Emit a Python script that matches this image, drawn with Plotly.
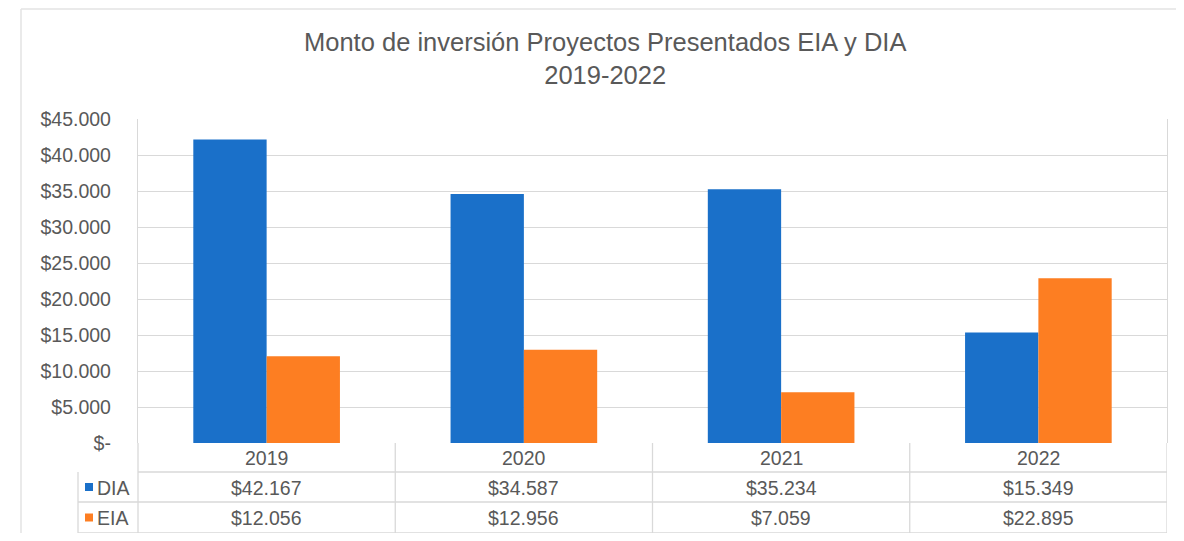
import plotly.graph_objects as go

years = ["2019", "2020", "2021", "2022"]
dia = [42167, 34587, 35234, 15349]
eia = [12056, 12956, 7059, 22895]
series_names = ["DIA", "EIA"]
y_ticks = [0, 5000, 10000, 15000, 20000, 25000, 30000, 35000, 40000, 45000]

BLUE = "#1a70c9"
ORANGE = "#fd7e22"
TEXT = "#595959"
GRID = "#d9d9d9"
FONT = "Liberation Sans, Arial, sans-serif"

OFF = 8  # default page body margin
W, H = 1184 - 2 * OFF, 541 - 2 * OFF
PL, PR, PT, PB = 138, 1167, 119, 443
FS = 19.5


def px(x):
    return (x - OFF) / W


def py(y):
    return 1 - (y - OFF) / H


def money(v):
    if v == 0:
        return "$-"
    return "$" + f"{v:,}".replace(",", ".")


fig = go.Figure()
fig.add_trace(go.Bar(x=years, y=dia, name=series_names[0], marker=dict(color=BLUE, line_width=0)))
fig.add_trace(go.Bar(x=years, y=eia, name=series_names[1], marker=dict(color=ORANGE, line_width=0)))

shapes = []
annotations = []
line = dict(color=GRID, width=1.3)

# outer frame
shapes.append(dict(type="line", xref="paper", yref="paper", x0=px(21), x1=px(21), y0=py(9), y1=0,
                   line=dict(color="#e3e3e3", width=1.5)))
shapes.append(dict(type="line", xref="paper", yref="paper", x0=px(21), x1=1, y0=py(9), y1=py(9),
                   line=dict(color="#e3e3e3", width=1.5)))

# table grid
shapes.append(dict(type="line", xref="paper", yref="paper", x0=px(PL), x1=px(PR), y0=py(472), y1=py(472), line=line))
for yy in [502, 533]:
    shapes.append(dict(type="line", xref="paper", yref="paper", x0=px(78), x1=px(PR), y0=py(yy), y1=py(yy), line=line))
shapes.append(dict(type="line", xref="paper", yref="paper", x0=px(78), x1=px(78), y0=py(472), y1=py(533), line=line))
shapes.append(dict(type="line", xref="paper", yref="paper", x0=px(PL), x1=px(PL), y0=py(PB), y1=py(533), line=line))
for i in range(len(years)):
    shapes.append(dict(type="line", xref="x", yref="paper", x0=i + 0.5, x1=i + 0.5, y0=py(PB), y1=py(533), line=line))

tfont = dict(size=FS, color=TEXT, family=FONT)
for i, yr in enumerate(years):
    annotations.append(dict(x=i, xref="x", y=py(458), yref="paper", yanchor="middle", text=yr,
                            showarrow=False, font=tfont))
    annotations.append(dict(x=i, xref="x", y=py(487.5), yref="paper", yanchor="middle", text=money(dia[i]),
                            showarrow=False, font=tfont))
    annotations.append(dict(x=i, xref="x", y=py(518), yref="paper", yanchor="middle", text=money(eia[i]),
                            showarrow=False, font=tfont))

# legend keys in table
for name, col, yc in [(series_names[0], BLUE, 487), (series_names[1], ORANGE, 517.5)]:
    shapes.append(dict(type="rect", xref="paper", yref="paper", x0=px(85), x1=px(93), y0=py(yc - 4), y1=py(yc + 4),
                       fillcolor=col, line_width=0))
    annotations.append(dict(x=px(95), xref="paper", y=py(yc + 0.5), yref="paper", yanchor="middle", text=name,
                            showarrow=False, xanchor="left", font=tfont))

# title
annotations.append(dict(x=px(605), xref="paper", y=py(58), yref="paper", yanchor="middle",
                        text="Monto de inversión Proyectos Presentados EIA y DIA<br>2019-2022",
                        showarrow=False, font=dict(size=25.5, color=TEXT, family=FONT), align="center"))

fig.update_layout(
    width=W, height=H,
    margin=dict(l=0, r=0, t=0, b=0, autoexpand=False),
    paper_bgcolor="white", plot_bgcolor="white",
    showlegend=False,
    barmode="group", bargap=0.43, bargroupgap=0,
    shapes=shapes, annotations=annotations,
    font=dict(family=FONT, color=TEXT),
    xaxis=dict(type="category", domain=[px(PL), px(PR)], showticklabels=False, showgrid=False,
               zeroline=False, showline=False, ticks="", range=[-0.5, 3.5], automargin=False),
    yaxis=dict(domain=[py(PB), py(PT)], range=[0, 45000], tickvals=y_ticks, automargin=False,
               ticktext=[money(v) for v in y_ticks], showgrid=True, gridcolor=GRID, gridwidth=1.3,
               zeroline=False, showline=True, linecolor=GRID, mirror=True, linewidth=1.3,
               ticks="", ticklabelstandoff=22, tickfont=tfont),
)

fig.write_html("out.html")
